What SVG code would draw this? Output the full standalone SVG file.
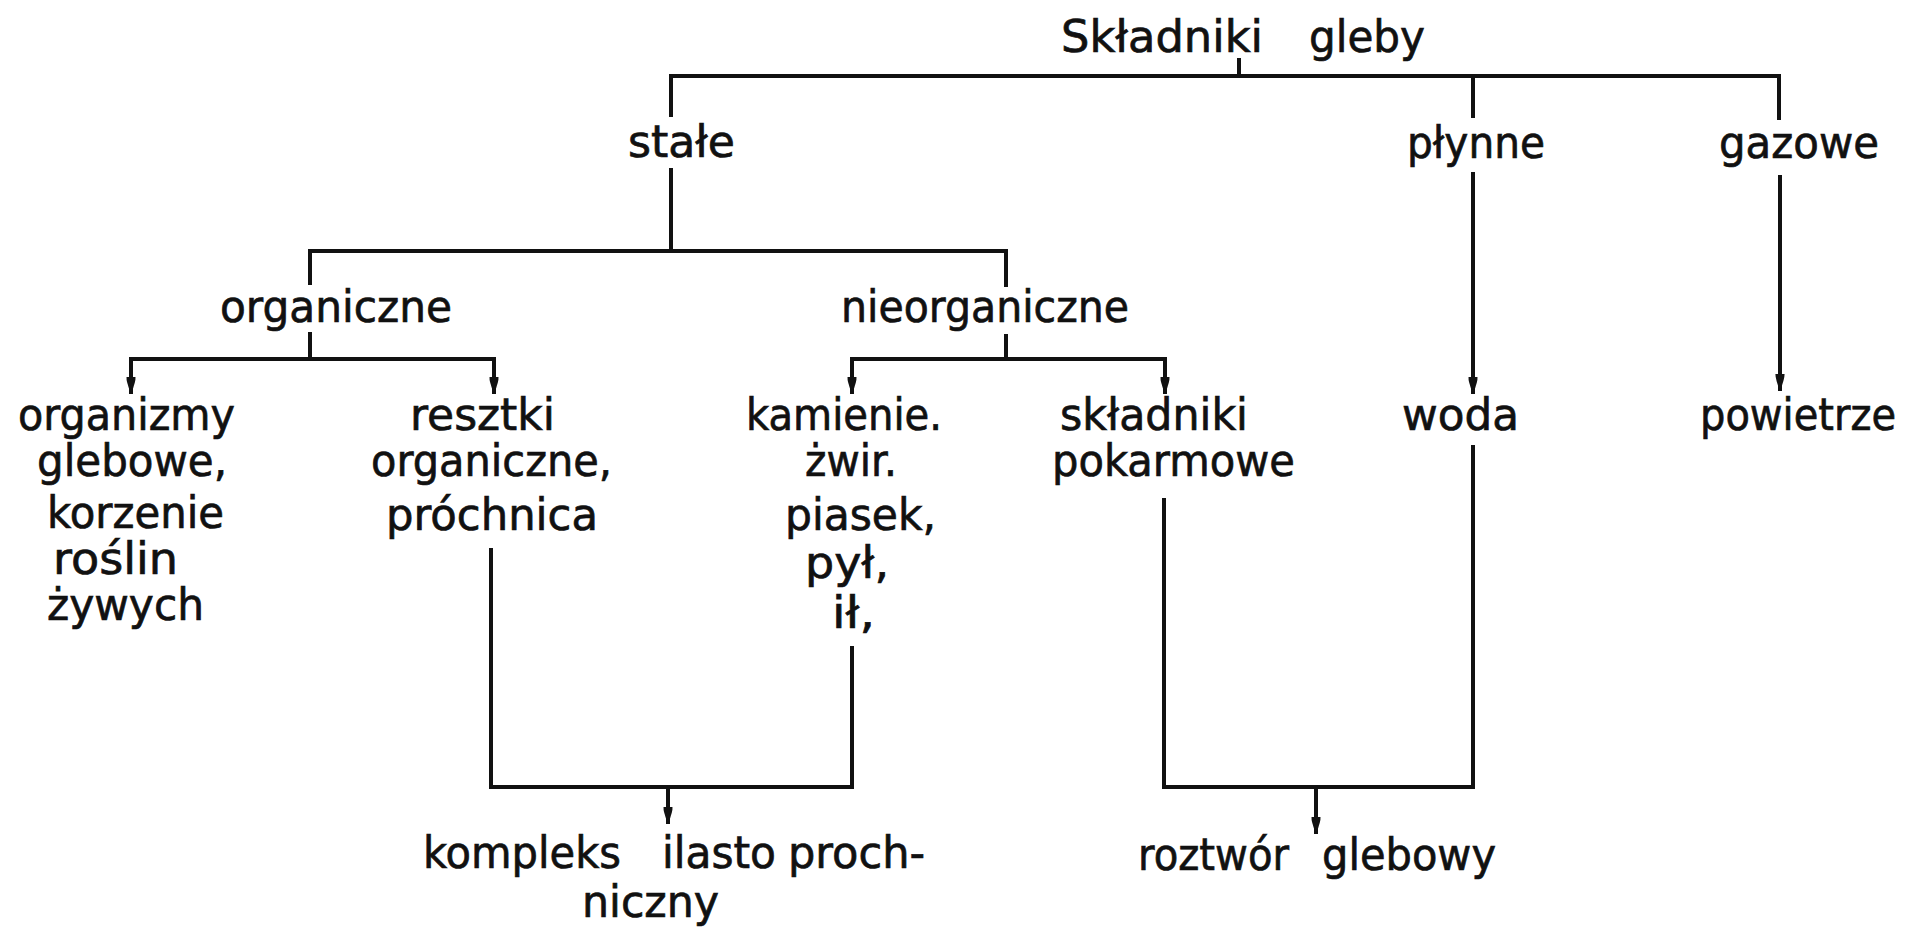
<svg xmlns="http://www.w3.org/2000/svg" width="1919" height="931" viewBox="0 0 1919 931">
<style>
  text { font-family: "DejaVu Sans", "Liberation Sans", sans-serif; font-size: 44px; fill: #111; stroke: #111; stroke-width: 0.7; }
  .ln { fill: none; stroke: #111; stroke-width: 4; stroke-linecap: square; }
  .ar { fill: none; stroke: #111; stroke-width: 4; marker-end: url(#arr); }
</style>
<defs>
  <marker id="arr" viewBox="0 -6 18 12" markerWidth="18" markerHeight="12" refX="17" refY="0" orient="auto" markerUnits="userSpaceOnUse">
    <path d="M0,-4.5 Q4,-5 17,0 Q4,5 0,4.5 z" fill="#111"/>
  </marker>
</defs>
<rect width="1919" height="931" fill="#fff"/>

<g id="connectors">
  <path class="ln" d="M1239,60 V76"/>
  <path class="ln" d="M671,115 V76 H1779 V118"/>
  <path class="ln" d="M1473,76 V116"/>
  <path class="ln" d="M671,170 V251"/>
  <path class="ln" d="M310,283 V251 H1006 V285"/>
  <path class="ln" d="M310,334 V359"/>
  <path class="ln" d="M131,359 H494"/>
  <path class="ar" d="M131,359 V394"/>
  <path class="ar" d="M494,359 V394"/>
  <path class="ln" d="M1006,336 V359"/>
  <path class="ln" d="M852,359 H1165"/>
  <path class="ar" d="M852,359 V394"/>
  <path class="ar" d="M1165,359 V394"/>
  <path class="ar" d="M1473,172 V394"/>
  <path class="ar" d="M1780,175 V391"/>
  <path class="ln" d="M491,550 V787 H852 V648"/>
  <path class="ar" d="M668,787 V824"/>
  <path class="ln" d="M1164,500 V787 H1473 V447"/>
  <path class="ar" d="M1316,787 V834"/>
</g>

<g id="n-root"><text y="52"><tspan x="1061" textLength="202" lengthAdjust="spacingAndGlyphs">Składniki</tspan><tspan x="1309" textLength="116" lengthAdjust="spacingAndGlyphs">gleby</tspan></text></g>
<g id="n-stale"><text x="628" y="157" textLength="107" lengthAdjust="spacingAndGlyphs">stałe</text></g>
<g id="n-plynne"><text x="1407" y="158" textLength="138" lengthAdjust="spacingAndGlyphs">płynne</text></g>
<g id="n-gazowe"><text x="1719" y="158" textLength="160" lengthAdjust="spacingAndGlyphs">gazowe</text></g>
<g id="n-organiczne"><text x="220" y="322" textLength="232" lengthAdjust="spacingAndGlyphs">organiczne</text></g>
<g id="n-nieorganiczne"><text x="841" y="322" textLength="288" lengthAdjust="spacingAndGlyphs">nieorganiczne</text></g>
<g id="n-organizmy">
  <text x="18" y="430" textLength="217" lengthAdjust="spacingAndGlyphs">organizmy</text>
  <text x="37" y="476" textLength="190" lengthAdjust="spacingAndGlyphs">glebowe,</text>
  <text x="47" y="528" textLength="177" lengthAdjust="spacingAndGlyphs">korzenie</text>
  <text x="53" y="574" textLength="125" lengthAdjust="spacingAndGlyphs">roślin</text>
  <text x="47" y="620" textLength="157" lengthAdjust="spacingAndGlyphs">żywych</text>
</g>
<g id="n-resztki">
  <text x="410" y="430" textLength="145" lengthAdjust="spacingAndGlyphs">resztki</text>
  <text x="371" y="476" textLength="241" lengthAdjust="spacingAndGlyphs">organiczne,</text>
  <text x="386" y="530" textLength="212" lengthAdjust="spacingAndGlyphs">próchnica</text>
</g>
<g id="n-kamienie">
  <text x="746" y="430" textLength="196" lengthAdjust="spacingAndGlyphs">kamienie.</text>
  <text x="805" y="476" textLength="92" lengthAdjust="spacingAndGlyphs">żwir.</text>
  <text x="785" y="530" textLength="151" lengthAdjust="spacingAndGlyphs">piasek,</text>
  <text x="805" y="578" textLength="84" lengthAdjust="spacingAndGlyphs">pył,</text>
  <text x="832" y="628" textLength="43" lengthAdjust="spacingAndGlyphs">ił,</text>
</g>
<g id="n-skladniki">
  <text x="1060" y="430" textLength="188" lengthAdjust="spacingAndGlyphs">składniki</text>
  <text x="1052" y="476" textLength="243" lengthAdjust="spacingAndGlyphs">pokarmowe</text>
</g>
<g id="n-woda"><text x="1402" y="430" textLength="117" lengthAdjust="spacingAndGlyphs">woda</text></g>
<g id="n-powietrze"><text x="1700" y="430" textLength="196" lengthAdjust="spacingAndGlyphs">powietrze</text></g>
<g id="n-kompleks">
  <text y="868"><tspan x="423" textLength="198" lengthAdjust="spacingAndGlyphs">kompleks</tspan><tspan x="662" textLength="114" lengthAdjust="spacingAndGlyphs">ilasto</tspan><tspan x="788" textLength="137" lengthAdjust="spacingAndGlyphs">proch-</tspan></text>
  <text x="582" y="917" textLength="137" lengthAdjust="spacingAndGlyphs">niczny</text>
</g>
<g id="n-roztwor"><text y="870"><tspan x="1138" textLength="151" lengthAdjust="spacingAndGlyphs">roztwór</tspan><tspan x="1322" textLength="174" lengthAdjust="spacingAndGlyphs">glebowy</tspan></text></g>
</svg>
